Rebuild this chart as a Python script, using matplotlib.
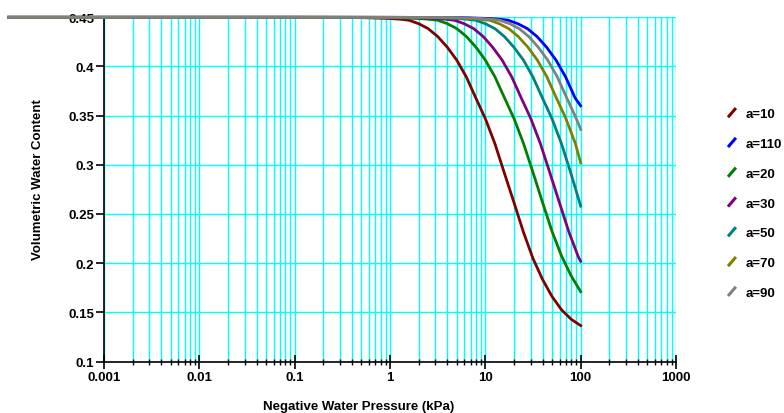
import matplotlib
matplotlib.use('Agg')
import matplotlib.pyplot as plt
from matplotlib.lines import Line2D
from matplotlib.legend_handler import HandlerBase
from matplotlib.ticker import LogLocator, FixedLocator, NullFormatter

# Values (pressure in kPa, volumetric water content)
labels = ['a=10', 'a=110', 'a=20', 'a=30', 'a=50', 'a=70', 'a=90']
colors = ['#800000', '#0000ff', '#008000', '#800080', '#008080', '#808000', '#808080']

p_a10 = [0.0001, 0.1, 0.5, 1, 1.26, 1.58, 2, 2.51, 3.16, 3.98, 5.01, 6.31, 7.94, 10,
         12.6, 15.8, 20, 25.1, 31.6, 39.8, 50.1, 63.1, 79.4, 100]
wc_a10 = [0.45, 0.45, 0.4497, 0.4488, 0.4481, 0.4470, 0.4435, 0.4385, 0.4305, 0.4197,
          0.4065, 0.3895, 0.3680, 0.3470, 0.3215, 0.2919, 0.2615, 0.2315, 0.2048,
          0.1835, 0.1660, 0.1525, 0.1430, 0.1365]

p_a20 = [0.0001, 0.2, 1, 2, 2.52, 3.17, 4, 5.02, 6.32, 7.96, 10, 12.6, 15.9, 20,
         25.2, 31.7, 39.9, 50.2, 63.2, 79.6, 100]
wc_a20 = [0.45, 0.45, 0.4497, 0.4488, 0.4481, 0.4470, 0.4435, 0.4385, 0.4305, 0.4197,
          0.4065, 0.3895, 0.3680, 0.3470, 0.3215, 0.2919, 0.2615, 0.2320, 0.2070,
          0.1870, 0.1710]

p_a30 = [0.0001, 0.3, 1.5, 3, 3.78, 4.75, 5.99, 7.54, 9.49, 11.9, 15.0, 18.9, 23.8,
         30, 37.8, 47.5, 59.9, 75.4, 94.9, 100]
wc_a30 = [0.45, 0.45, 0.4497, 0.4488, 0.4481, 0.4470, 0.4435, 0.4385, 0.4305, 0.4197,
          0.4065, 0.3895, 0.3680, 0.3470, 0.3215, 0.2919, 0.2615, 0.2315, 0.2060,
          0.2020]

p_a50 = [0.0001, 0.5, 2.5, 5, 6.29, 7.92, 9.98, 12.6, 15.8, 19.9, 25.1, 31.5, 39.7,
         50, 62.9, 79.2, 100]
wc_a50 = [0.45, 0.45, 0.4497, 0.4488, 0.4481, 0.4470, 0.4435, 0.4385, 0.4305, 0.4197,
          0.4065, 0.3895, 0.3680, 0.3470, 0.3215, 0.2910, 0.2580]

p_a70 = [0.0001, 0.7, 3.5, 7, 8.81, 11.1, 14.0, 17.6, 22.1, 27.9, 35.1, 44.2, 55.6,
         70, 88.1, 100]
wc_a70 = [0.45, 0.45, 0.4497, 0.4488, 0.4481, 0.4470, 0.4435, 0.4385, 0.4305, 0.4197,
          0.4065, 0.3895, 0.3680, 0.3470, 0.3215, 0.3020]

p_a90 = [0.0001, 0.9, 4.5, 9, 11.3, 14.2, 18.0, 22.6, 28.5, 35.8, 45.1, 56.8, 71.5,
         90, 100]
wc_a90 = [0.45, 0.45, 0.4497, 0.4488, 0.4481, 0.4470, 0.4435, 0.4385, 0.4305, 0.4197,
          0.4065, 0.3895, 0.3680, 0.3470, 0.3360]

p_a110 = [0.0001, 1.1, 5.5, 11, 13.8, 17.4, 21.9, 27.6, 34.8, 43.8, 55.1, 69.4, 87.4,
          100]
wc_a110 = [0.45, 0.45, 0.4497, 0.4488, 0.4481, 0.4470, 0.4435, 0.4385, 0.4305, 0.4197,
           0.4065, 0.3895, 0.3680, 0.3600]

series = [(p_a10, wc_a10), (p_a110, wc_a110), (p_a20, wc_a20), (p_a30, wc_a30),
          (p_a50, wc_a50), (p_a70, wc_a70), (p_a90, wc_a90)]

y_ticks = [0.1, 0.15, 0.2, 0.25, 0.3, 0.35, 0.4, 0.45]
y_ticklabels = ['0.1', '0.15', '0.2', '0.25', '0.3', '0.35', '0.4', '0.45']
x_ticks = [0.001, 0.01, 0.1, 1, 10, 100, 1000]
x_ticklabels = ['0.001', '0.01', '0.1', '1', '10', '100', '1000']


class SlashHandler(HandlerBase):
    """Short diagonal stroke as legend key."""
    def create_artists(self, legend, orig_handle, xdescent, ydescent,
                       width, height, fontsize, trans):
        x0, y0 = -xdescent, -ydescent
        ln = Line2D([x0, x0 + width], [y0, y0 + height],
                    color=orig_handle.get_color(), lw=2.2,
                    solid_capstyle='butt', transform=trans)
        return [ln]


plt.rcParams['font.family'] = ['Liberation Sans', 'DejaVu Sans']
plt.rcParams['font.weight'] = 'bold'
plt.rcParams['font.size'] = 9.5

fig = plt.figure(figsize=(7.84, 4.14), dpi=100)
ax = fig.add_axes([104 / 784, 1 - 362.5 / 414, 572 / 784, 344.2 / 414])

ax.set_xscale('log')
ax.set_xlim(0.001, 1000)
ax.set_ylim(0.1, 0.45)

lines = []
for (p, wc), lab, col in zip(series, labels, colors):
    ln, = ax.plot(p, wc, color=col, lw=2.0, label=lab, clip_on=False, zorder=3)
    lines.append(ln)
# grey curve sits on top of the others along the plateau
lines[-1].set_zorder(4)

ax.xaxis.set_major_locator(FixedLocator(x_ticks))
ax.set_xticklabels(x_ticklabels)
ax.xaxis.set_minor_locator(LogLocator(base=10, subs=range(2, 10), numticks=20))
ax.xaxis.set_minor_formatter(NullFormatter())
ax.set_yticks(y_ticks)
ax.set_yticklabels(y_ticklabels)

ax.grid(True, which='both', axis='x', color='#00ffff', lw=1.0, zorder=0)
ax.grid(True, which='major', axis='y', color='#00ffff', lw=1.0, zorder=0)
ax.set_axisbelow(True)

ax.spines['top'].set_visible(False)
ax.spines['right'].set_visible(False)
ax.spines['left'].set_linewidth(1.2)
ax.spines['bottom'].set_linewidth(1.2)

ax.tick_params(axis='x', which='major', direction='inout', length=10, width=1.2, pad=2)
ax.tick_params(axis='x', which='minor', direction='inout', length=4.5, width=1.0)
ax.tick_params(axis='y', which='major', direction='out', length=6, width=1.2, pad=1)

fig.text(359 / 784, 1 - 407 / 414, 'Negative Water Pressure (kPa)',
         ha='center', va='center', fontweight='bold')
fig.text(38.5 / 784, 1 - 180 / 414, 'Volumetric Water Content',
         ha='center', va='center', rotation=90, fontweight='bold')

fig.legend(handles=lines, labels=labels, loc='center left',
           bbox_to_anchor=(728 / 784, 1 - 204.5 / 414), frameon=False,
           handler_map={Line2D: SlashHandler()}, handlelength=0.6,
           handleheight=0.7, handletextpad=0.75, labelspacing=1.33,
           borderpad=0, borderaxespad=0)

fig.savefig('out.png', dpi=100)
